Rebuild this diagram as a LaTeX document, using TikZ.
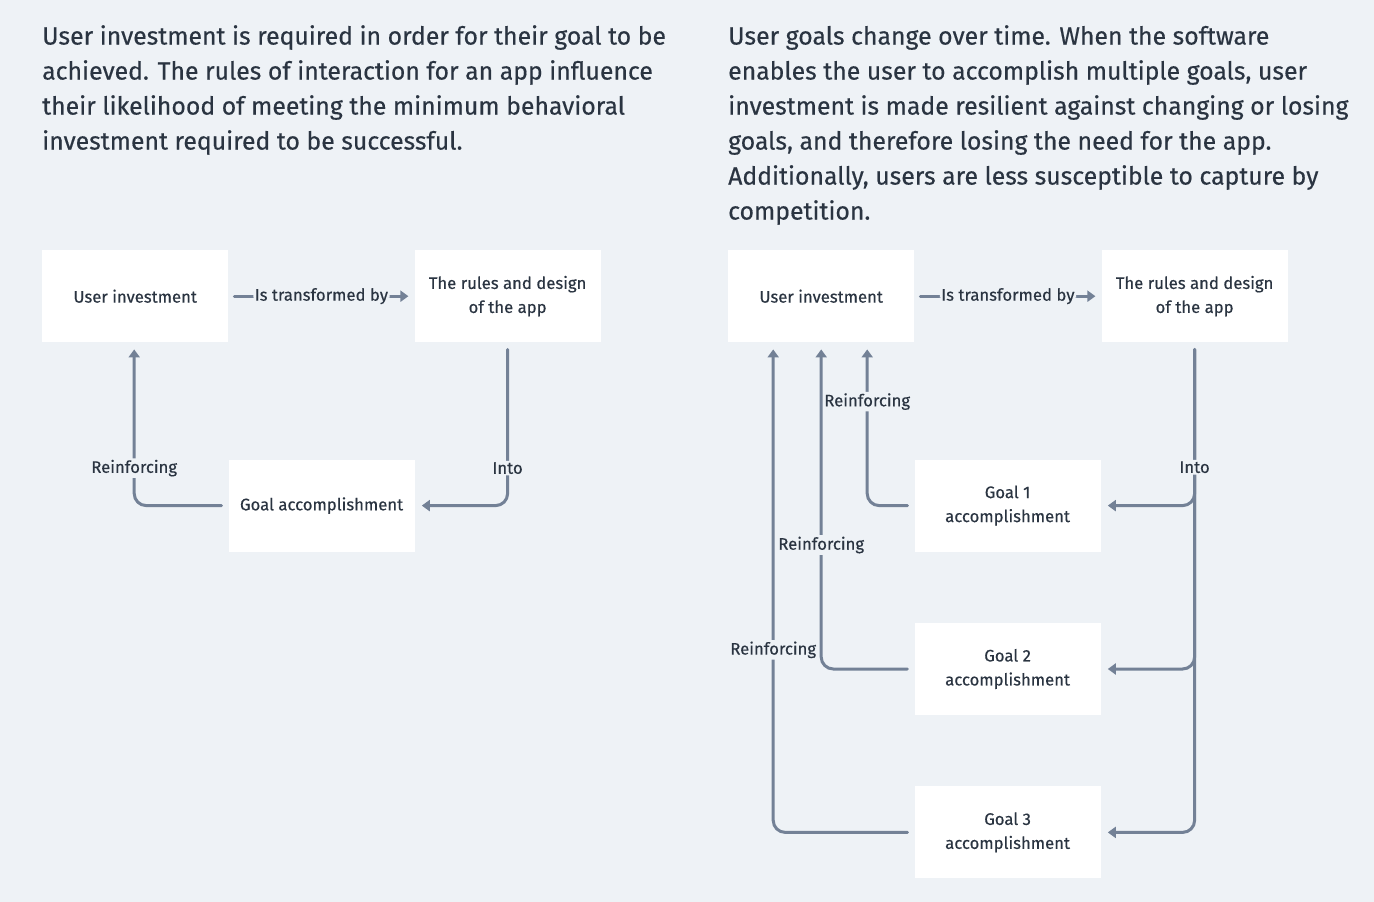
\documentclass[tikz,border=0pt]{standalone}
\usepackage{fontspec}
\setmainfont{Fira Sans}[FakeBold=0.4]
\usetikzlibrary{arrows.meta,positioning}

\definecolor{canvas}{HTML}{EEF2F6}
\definecolor{wire}{HTML}{738196}
\definecolor{ink}{HTML}{2A3441}

\tikzset{
    card/.style={fill=white, minimum width=186pt, minimum height=92pt, inner sep=0pt,
        align=center, text=ink, font=\fontsize{16.7}{24}\selectfont},
    flow/.style={draw=wire, line width=3pt, line cap=round, rounded corners=12pt,
        -{Triangle[length=8pt,width=11pt]}},
    tag/.style={fill=canvas, text=ink, inner sep=1.5pt, font=\fontsize{16.7}{20}\selectfont},
    blurb/.style={anchor=north west, align=left, inner sep=0pt, text=ink,
        font=\fontsize{24.8}{35}\selectfont},
}

\begin{document}
\begin{tikzpicture}[x=1pt,y=-1pt]
    \fill[canvas] (0,0) rectangle (1374,902);
    \useasboundingbox (0,0) rectangle (1374,902);

    % left: one goal
    \node[blurb] (introA) at (42,25) {User investment is required in order for their goal to be\\
        achieved. The rules of interaction for an app influence\\
        their likelihood of meeting the minimum behavioral\\
        investment required to be successful.};
    \node[card, anchor=north west] (user) at (42,250) {User investment};
    \node[card, right=186pt of user] (rules) {The rules and design\\of the app};
    \node[card, below right=117pt and 0pt of user] (goal) {Goal accomplishment};

    \draw[flow] ([xshift=6pt]user.east) -- node[tag] {Is transformed by} ([xshift=-6pt]rules.west);
    \draw[flow] ([yshift=-7pt]rules.south) |- node[tag, pos=0.38] {Into} ([xshift=7pt]goal.east);
    \draw[flow] ([xshift=-7pt]goal.west) -| node[tag, pos=0.62] {Reinforcing} ([xshift=-1pt,yshift=-7pt]user.south);

    % right: several goals
    \node[blurb] (introB) at (728,25) {User goals change over time. When the software\\
        enables the user to accomplish multiple goals, user\\
        investment is made resilient against changing or losing\\
        goals, and therefore losing the need for the app.\\
        Additionally, users are less susceptible to capture by\\
        competition.};
    \node[card, anchor=north west] (user2) at (728,250) {User investment};
    \node[card, right=187pt of user2] (rules2) {The rules and design\\of the app};
    \node[card, below right=117pt and 0pt of user2] (goal1) {Goal 1\\accomplishment};
    \node[card, below=71pt of goal1] (goal2) {Goal 2\\accomplishment};
    \node[card, below=71pt of goal2] (goal3) {Goal 3\\accomplishment};

    \draw[flow] ([xshift=6pt]user2.east) -- node[tag] {Is transformed by} ([xshift=-6pt]rules2.west);
    \draw[flow] ([yshift=-7pt]rules2.south) |- ([xshift=7pt]goal1.east);
    \draw[flow] ([yshift=-7pt]rules2.south) |- ([xshift=7pt]goal2.east);
    \draw[flow] ([yshift=-7pt]rules2.south) |- node[tag, pos=0.122] {Into} ([xshift=7pt]goal3.east);

    \draw[flow] ([xshift=-7pt]goal1.west) -| node[tag, pos=0.833] {Reinforcing} ([xshift=46pt,yshift=-7pt]user2.south);
    \draw[flow] ([xshift=-7pt]goal2.west) -| node[tag, pos=0.694] {Reinforcing} ([yshift=-7pt]user2.south);
    \draw[flow] ([xshift=-7pt]goal3.west) -| node[tag, pos=0.689] {Reinforcing} ([xshift=-48pt,yshift=-7pt]user2.south);
\end{tikzpicture}
\end{document}
